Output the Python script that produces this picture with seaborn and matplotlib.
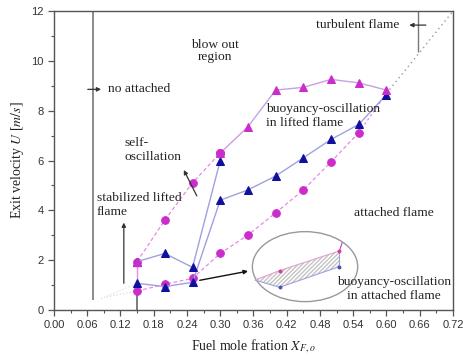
import numpy as np
import pandas as pd
import matplotlib
matplotlib.use("Agg")
import matplotlib.pyplot as plt
from matplotlib.patches import Ellipse, Polygon
import seaborn as sns

# ---- data ---------------------------------------------------------------
# lower boundary of the lifted flame (blue triangles)
x_lift_low = [0.15, 0.20, 0.25, 0.30, 0.35, 0.40, 0.45, 0.50, 0.55, 0.60]
u_lift_low = [1.07, 0.94, 1.11, 4.41, 4.82, 5.38, 6.11, 6.85, 7.45, 8.65]

# upper branch of the stabilized lifted flame (blue triangles)
x_lift_up = [0.15, 0.20, 0.25, 0.30]
u_lift_up = [1.94, 2.27, 1.71, 6.00]

# self-oscillation limit (magenta circles, dashed)
x_self = [0.15, 0.20, 0.25, 0.30]
u_self = [1.94, 3.61, 5.11, 6.30]

# blow-out limit (magenta triangles)
x_blow = [0.30, 0.35, 0.40, 0.45, 0.50, 0.55, 0.60]
u_blow = [6.30, 7.36, 8.83, 8.94, 9.26, 9.12, 8.83]

# attached-flame limit (magenta circles, dashed)
x_att = [0.15, 0.20, 0.25, 0.30, 0.35, 0.40, 0.45, 0.50, 0.55]
u_att = [0.76, 1.03, 1.27, 2.27, 3.01, 3.90, 4.82, 5.95, 7.12]

# extrapolated attached / turbulent limit (dotted)
x_ext = [0.55, 0.60]
u_ext = [7.12, 8.70]
x_turb = [0.60, 0.72]
u_turb = [8.70, 12.0]

# faint extrapolation of the lower curves to the left
x_left_a = [0.095, 0.15]
u_left_a = [0.53, 0.76]
x_left_b = [0.085, 0.15]
u_left_b = [0.45, 1.07]

# regime limits
x_no_attached = 0.07
u_no_attached = [0.40, 12.0]
x_lift_start = 0.15
x_turbulent = 0.657
u_turbulent = [10.37, 12.0]

# enlarged sketch inside the ellipse
ell_center = (0.453, 1.74)
ell_size = (0.19, 2.81)
zoom_upper_x = [0.363, 0.407, 0.515]
zoom_upper_u = [1.20, 1.58, 2.37]
zoom_lower_x = [0.363, 0.407, 0.515]
zoom_lower_u = [1.20, 0.91, 1.74]

x_ticks = np.round(np.arange(0, 0.7201, 0.06), 2)
y_ticks = np.arange(0, 13, 2)

# ---- style --------------------------------------------------------------
sns.set_style("ticks")
serif = ["Liberation Serif", "DejaVu Serif"]
plt.rcParams["font.family"] = ["Liberation Sans", "DejaVu Sans"]
plt.rcParams["mathtext.fontset"] = "stix"

MAG = "#cc2ccc"
BLUE = "#10109e"
LAV = "#a0a0e2"
PINK = "#e58ae5"
GREY = "#555555"

fig = plt.figure(figsize=(4.63, 3.60), dpi=100)
ax = fig.add_axes([0.1166, 0.139, 0.8618, 0.830])

# regime limits
ax.vlines(x_no_attached, *u_no_attached, color="#777777", lw=1.2)
ax.vlines(x_turbulent, *u_turbulent, color="#777777", lw=1.0)
ax.vlines(x_lift_start, 0, u_att[0], color="#666666", lw=1.2)
ax.vlines(x_lift_start, u_att[0], u_lift_up[0], color=PINK, lw=1.0)

# faint extrapolations
sns.lineplot(x=x_left_a, y=u_left_a, ax=ax, color="#d8d8d8", lw=0.9, ls=":")
sns.lineplot(x=x_left_b, y=u_left_b, ax=ax, color="#dddddd", lw=0.9, ls=":")
sns.lineplot(x=x_ext, y=u_ext, ax=ax, color=PINK, lw=0.9, ls=(0, (2, 2)))
ax.plot(x_turb, u_turb, color="#999999", lw=1.0, ls=(0, (1, 2.5)))

# dashed limits with circles
sns.lineplot(x=x_att, y=u_att, ax=ax, color=PINK, lw=0.9, ls=(0, (3, 2)),
             marker="o", markersize=5.5, markerfacecolor=MAG,
             markeredgecolor=MAG)
sns.lineplot(x=x_self, y=u_self, ax=ax, color=PINK, lw=0.9, ls=(0, (3, 2)),
             marker="o", markersize=5.5, markerfacecolor=MAG,
             markeredgecolor=MAG)

# lifted flame limits with triangles
sns.lineplot(x=x_lift_low, y=u_lift_low, ax=ax, color=LAV, lw=1.0,
             marker="^", markersize=6, markerfacecolor=BLUE,
             markeredgecolor=BLUE)
sns.lineplot(x=x_lift_up, y=u_lift_up, ax=ax, color=LAV, lw=1.0,
             marker="^", markersize=6, markerfacecolor=BLUE,
             markeredgecolor=BLUE)
sns.lineplot(x=x_blow, y=u_blow, ax=ax, color="#c8a0e0", lw=1.0,
             marker="^", markersize=6, markerfacecolor=MAG,
             markeredgecolor=MAG)
# overlapping markers at the ends of the loop
ax.plot(x_lift_up[0], u_lift_up[0], "^", ms=6, color=MAG)
ax.plot(x_self[-1], u_self[-1], "o", ms=5.5, color=MAG)

# ellipse with enlarged oscillation band
ax.add_patch(Ellipse(ell_center, *ell_size, fill=False, ec="#999999",
                     lw=1.0))
band = list(zip(zoom_upper_x, zoom_upper_u)) + \
    list(zip(zoom_lower_x[::-1], zoom_lower_u[::-1]))
ax.add_patch(Polygon(band, closed=True, fc="none", ec="#c4c4c4",
                     hatch="////////", lw=0))
ax.plot(zoom_upper_x, zoom_upper_u, color="#e0a0d0", lw=0.8)
ax.plot(zoom_lower_x, zoom_lower_u, color=LAV, lw=0.8)
ax.plot([zoom_upper_x[-1], zoom_lower_x[-1]],
        [zoom_upper_u[-1], zoom_lower_u[-1]], color=LAV, lw=0.8)
ax.plot([zoom_upper_x[-1], 0.52], [zoom_upper_u[-1], 2.7], color=MAG,
        lw=0.8)
ax.plot(zoom_upper_x[1:], zoom_upper_u[1:], "o", ms=1.8, color="#d04090")
ax.plot(zoom_lower_x[1:], zoom_lower_u[1:], "o", ms=1.8, color="#5050b0")

# annotations
tkw = dict(family=serif, fontsize=9.7, color="#222222")
ax.text(0.29, 10.4, "blow out\nregion", ha="center", va="center",
        linespacing=1.05, **tkw)
ax.text(0.097, 8.86, "no attached", ha="left", va="center", **tkw)
ax.annotate("", xy=(0.090, 8.86), xytext=(0.056, 8.86),
            arrowprops=dict(arrowstyle="-|>", color="#333333", lw=0.9,
                            mutation_scale=6))
ax.text(0.623, 11.44, "turbulent flame", ha="right", va="center", **tkw)
ax.annotate("", xy=(0.636, 11.44), xytext=(0.676, 11.44),
            arrowprops=dict(arrowstyle="-|>", color="#333333", lw=0.9,
                            mutation_scale=6))
ax.text(0.128, 6.42, "self-\noscillation", ha="left", va="center",
        linespacing=1.15, **tkw)
ax.annotate("", xy=(0.232, 5.72), xytext=(0.26, 4.48),
            arrowprops=dict(arrowstyle="-|>", color="#333333", lw=0.9,
                            mutation_scale=6))
ax.text(0.077, 4.22, "stabilized lifted\nflame", ha="left", va="center",
        linespacing=1.15, **tkw)
ax.annotate("", xy=(0.126, 3.62), xytext=(0.126, 0.96),
            arrowprops=dict(arrowstyle="-|>", color="#333333", lw=0.9,
                            mutation_scale=6))
ax.text(0.383, 7.79, "buoyancy-oscillation\nin lifted flame", ha="left",
        va="center", linespacing=1.15, **tkw)
ax.text(0.614, 3.88, "attached flame", ha="center", va="center", **tkw)
ax.text(0.614, 0.84, "buoyancy-oscillation\nin attached flame",
        ha="center", va="center", linespacing=1.15, **tkw)
ax.annotate("", xy=(0.355, 1.58), xytext=(0.258, 1.17),
            arrowprops=dict(arrowstyle="-|>", color="#111111", lw=1.0,
                            mutation_scale=6))

# axes
ax.set_xlim(0, 0.72)
ax.set_ylim(0, 12)
ax.set_xticks(x_ticks)
ax.set_xticklabels([f"{v:.2f}" for v in x_ticks])
ax.set_yticks(y_ticks)
ax.set_xticks(np.arange(0.03, 0.72, 0.06), minor=True)
ax.set_yticks(np.arange(1, 12, 2), minor=True)
ax.tick_params(which="major", direction="out", length=4, width=0.9,
               colors=GREY, labelsize=8, labelcolor="#333333")
ax.tick_params(which="minor", direction="out", length=2.5, width=0.8,
               colors=GREY)
ax.tick_params(top=False, right=False)
for s in ax.spines.values():
    s.set_visible(True)
    s.set_color(GREY)
    s.set_linewidth(1.0)

ax.set_xlabel(r"Fuel mole fration $X_{F,o}$", family=serif, fontsize=10,
              color="#222222", labelpad=5)
ax.set_ylabel(r"Exit velocity $U$ [$m/s$]", family=serif, fontsize=10,
              color="#222222", labelpad=4)

fig.savefig("out.png", dpi=100)
